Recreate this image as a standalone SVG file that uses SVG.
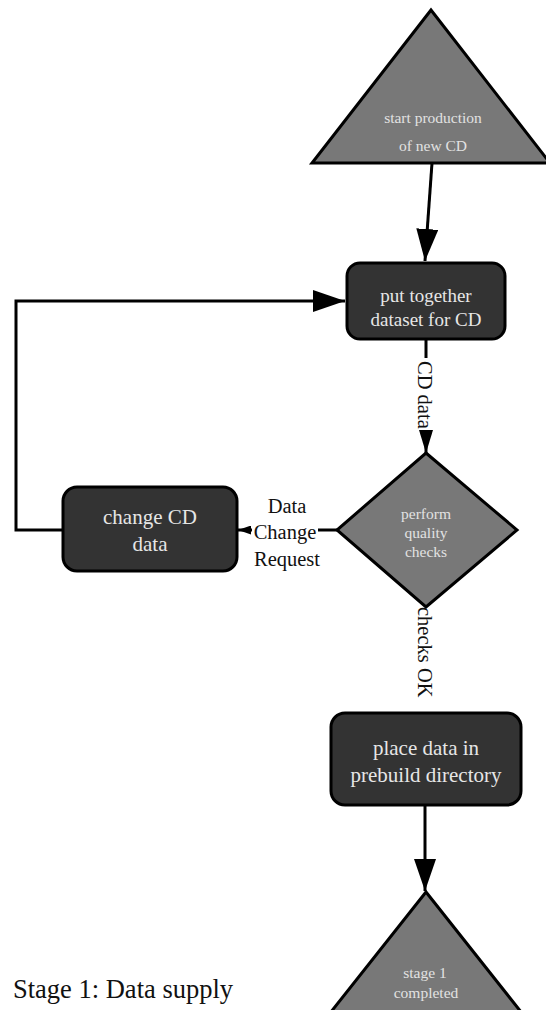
<svg xmlns="http://www.w3.org/2000/svg" width="546" height="1010" viewBox="0 0 546 1010">
<style>
  .box { fill: #333333; stroke: #000000; stroke-width: 3; }
  .gray { fill: #787878; stroke: #000000; stroke-width: 3; stroke-linejoin: miter; }
  .t { font-family: "Liberation Serif", "Times New Roman", serif; text-anchor: middle; }
  .bt { fill: #e6e6e6; font-size: 21px; }
  .gt { fill: #e2e2e2; font-size: 15.5px; }
  .lbl { fill: #111111; font-size: 20.5px; font-family: "Liberation Serif", "Times New Roman", serif; }
  .edge { fill: none; stroke: #000000; stroke-width: 3; }
  .bg { fill: #ffffff; stroke: none; }
</style>
<defs>
  <marker id="big" markerUnits="userSpaceOnUse" markerWidth="32" markerHeight="22" refX="32" refY="11" orient="auto">
    <path d="M0,0 L32,11 L0,22 Z" fill="#000"/>
  </marker>
  <marker id="mid" markerUnits="userSpaceOnUse" markerWidth="23" markerHeight="14" refX="23" refY="7" orient="auto">
    <path d="M0,0 L23,7 L0,14 Z" fill="#000"/>
  </marker>
  <marker id="small" markerUnits="userSpaceOnUse" markerWidth="13" markerHeight="9" refX="13" refY="4.5" orient="auto">
    <path d="M0,0 L13,4.5 L0,9 Z" fill="#000"/>
  </marker>
</defs>

<g id="connectors">
  <path id="e-start" class="edge" d="M432,163 L425,261" marker-end="url(#big)"/>
  <path id="e-loop" class="edge" d="M63,530 H16 V301 H345" marker-end="url(#big)"/>
  <g id="e-cddata">
    <path class="edge" d="M426,339 V453" marker-end="url(#mid)"/>
    <rect class="bg" x="412" y="358" width="22" height="72"/>
    <text class="lbl" transform="translate(418,361) rotate(90)">CD data</text>
  </g>
  <g id="e-change">
    <path class="edge" d="M337,530 H238" marker-end="url(#small)"/>
    <rect class="bg" x="252" y="490" width="66" height="80"/>
    <text class="lbl" text-anchor="middle" x="287" y="513">Data</text>
    <text class="lbl" text-anchor="middle" x="285" y="539">Change</text>
    <text class="lbl" text-anchor="middle" x="287" y="566">Request</text>
  </g>
  <g id="e-checksok">
    <path class="edge" d="M426,607 V712"/>
    <rect class="bg" x="412" y="606" width="24" height="106"/>
    <text class="lbl" transform="translate(418,607) rotate(90)">checks OK</text>
  </g>
  <path id="e-done" class="edge" d="M425,805 V891" marker-end="url(#big)"/>
</g>

<g id="start">
  <polygon class="gray" points="431,10 312,163 550,163"/>
  <text class="t gt" x="433" y="123">start production</text>
  <text class="t gt" x="433" y="151">of new CD</text>
</g>

<g id="dataset">
  <rect class="box" x="347" y="263" width="158" height="76" rx="13"/>
  <text class="t bt" style="font-size:19px" x="426" y="302">put together</text>
  <text class="t bt" style="font-size:19px" x="426" y="326">dataset for CD</text>
</g>

<g id="quality">
  <polygon class="gray" points="426,453 517,530 426,607 337,530"/>
  <text class="t gt" x="426" y="519">perform</text>
  <text class="t gt" x="426" y="538">quality</text>
  <text class="t gt" x="426" y="557">checks</text>
</g>

<g id="change">
  <rect class="box" x="63" y="487" width="174" height="84" rx="14"/>
  <text class="t bt" x="150" y="524">change CD</text>
  <text class="t bt" x="150" y="551">data</text>
</g>

<g id="prebuild">
  <rect class="box" x="331" y="713" width="190" height="92" rx="14"/>
  <text class="t bt" x="426" y="755">place data in</text>
  <text class="t bt" x="426" y="782">prebuild directory</text>
</g>

<g id="completed">
  <polygon class="gray" points="426,892 323,1022 529,1022"/>
  <text class="t gt" x="425" y="978">stage 1</text>
  <text class="t gt" x="426" y="998">completed</text>
</g>

<text id="caption" x="13" y="998" style="font-family:'Liberation Serif','Times New Roman',serif;font-size:26.5px;fill:#111">Stage 1: Data supply</text>
</svg>
